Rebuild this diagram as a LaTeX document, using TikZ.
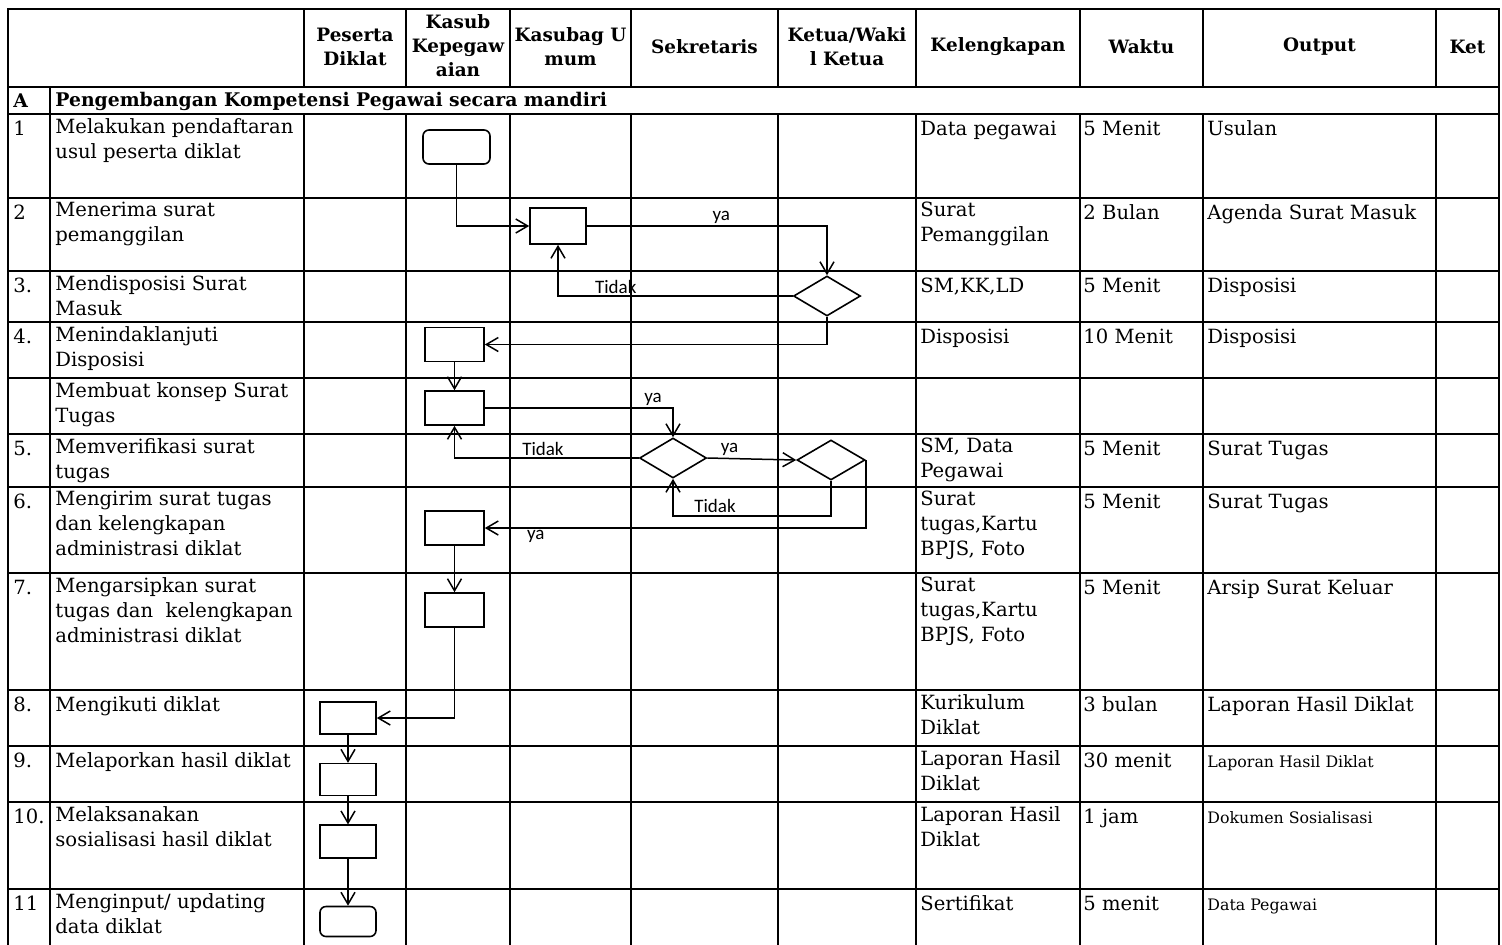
\documentclass[tikz,border=0pt]{standalone}
\usepackage{fontspec}
\setmainfont{DejaVu Serif}
\newfontfamily\labelfont{Carlito}
\usepackage{tikz}
\usetikzlibrary{positioning,shapes.geometric,arrows.meta}
\newcommand{\outsmall}{\fontsize{7.9}{10}\selectfont}
\tikzset{
    grid-line/.style = {line width=1.4pt, line cap=rect},
    cell-text/.style = {anchor=north west, inner sep=0pt, align=left, font=\fontsize{9.8}{12.5}\selectfont, execute at begin node=\strut},
    head-text/.style = {inner sep=0pt, align=center, font=\fontsize{9.2}{12}\selectfont\bfseries},
    proc-box/.style = {draw, thick, rectangle, minimum width=29.5pt, minimum height=17pt, inner sep=0pt},
    term-box/.style = {proc-box, rounded corners=3pt},
    dec-box/.style = {draw, thick, diamond, minimum width=33.5pt, minimum height=20pt, inner sep=0pt},
    flow-line/.style = {line width=0.75pt, -{Straight Barb[length=6pt,width=7pt]}},
    flow-label/.style = {font=\labelfont\fontsize{9.5}{11}\selectfont, inner sep=1pt},
}

\begin{document}
\begin{tikzpicture}[x=0.5pt, y=-0.5pt]
\useasboundingbox (0,0) rectangle (1502,944);

% table grid
\foreach \y in {9,87,114,198,271,322,378,434,487,573,690,746,802,889}
    \draw[grid-line] (8,\y) -- (1499,\y);
\draw[grid-line] (8,9) -- (8,950);
\draw[grid-line] (1499,9) -- (1499,950);
\draw[grid-line] (50,87) -- (50,950);
\foreach \x in {304,406,510,631,778,916,1080,1203,1436} {
    \draw[grid-line] (\x,9) -- (\x,87);
    \draw[grid-line] (\x,114) -- (\x,950);
}

% header
\node[head-text] (h-peserta) at (355,47) {Peserta\\Diklat};
\node[head-text] (h-kepeg) at (458,46) {Kasub\\Kepegaw\\aian};
\node[head-text] (h-umum) at (570.5,47) {Kasubag U\\mum};
\node[head-text] (h-sekre) at (704.5,47) {Sekretaris};
\node[head-text] (h-ketua) at (847,47) {Ketua/Waki\\l Ketua};
\node[head-text] (h-kel) at (998,47) {Kelengkapan};
\node[head-text] (h-waktu) at (1141.5,47) {Waktu};
\node[head-text] (h-output) at (1319.5,47) {Output};
\node[head-text] (h-ket) at (1467.5,47) {Ket};
\node[head-text, anchor=west, font=\fontsize{9.4}{12}\selectfont\bfseries] (sec-no) at (13,101) {A};
\node[head-text, anchor=west, font=\fontsize{9.4}{12}\selectfont\bfseries] (sec-title) at (55,101) {Pengembangan Kompetensi Pegawai secara mandiri};

% rows
\foreach \y/\no/\task/\kel/\wkt/\out [count=\r] in {
    114/1/{Melakukan pendaftaran\\usul peserta diklat}/{Data pegawai}/{5 Menit}/{Usulan},
    198/2/{Menerima surat\\pemanggilan}/{Surat\\Pemanggilan}/{2 Bulan}/{Agenda Surat Masuk},
    271/3./{Mendisposisi Surat\\Masuk}/{SM,KK,LD}/{5 Menit}/{Disposisi},
    322/4./{Menindaklanjuti\\Disposisi}/{Disposisi}/{10 Menit}/{Disposisi},
    378/{}/{Membuat konsep Surat\\Tugas}/{}/{}/{},
    434/5./{Memverifikasi surat\\tugas}/{SM, Data\\Pegawai}/{5 Menit}/{Surat Tugas},
    487/6./{Mengirim surat tugas\\dan kelengkapan\\administrasi diklat}/{Surat\\tugas,Kartu\\BPJS, Foto}/{5 Menit}/{Surat Tugas},
    573/7./{Mengarsipkan surat\\tugas dan\ \ kelengkapan\\administrasi diklat}/{Surat\\tugas,Kartu\\BPJS, Foto}/{5 Menit}/{Arsip Surat Keluar},
    690/8./{Mengikuti diklat}/{Kurikulum\\Diklat}/{3 bulan}/{Laporan Hasil Diklat},
    746/9./{Melaporkan hasil diklat}/{Laporan Hasil\\Diklat}/{30 menit}/{\outsmall Laporan Hasil Diklat},
    802/10./{Melaksanakan\\sosialisasi hasil diklat}/{Laporan Hasil\\Diklat}/{1 jam}/{\outsmall Dokumen Sosialisasi},
    889/11/{Menginput/ updating\\data diklat}/{Sertifikat}/{5 menit}/{\outsmall Data Pegawai}%
} {
    \node[cell-text] (no-\r) at (13,\y+4) {\no};
    \node[cell-text] (task-\r) at (55,\y+4) {\task};
    \node[cell-text] (kel-\r) at (920,\y+4) {\kel};
    \node[cell-text] (wkt-\r) at (1083,\y+4) {\wkt};
    \node[cell-text] (out-\r) at (1207,\y+4) {\out};
}

% flow shapes
\node[term-box, minimum width=33.5pt] (daftar) at (456.5,147) {};
\node[proc-box, minimum width=28pt, minimum height=18pt] (terima) at (558,226) {};
\node[dec-box] (cek-dispo) at (827,296) {};
\node[proc-box] (tindak) at (454.5,344.5) {};
\node[proc-box] (konsep) at (454.5,408) {};
\node[dec-box] (cek-sekre) at (673,458) {};
\node[dec-box, minimum width=34pt] (cek-ketua) at (831,460) {};
\node[proc-box] (kirim) at (454.5,528) {};
\node[proc-box] (arsip) at (454.5,610) {};
\node[proc-box, minimum width=28pt, minimum height=16pt] (ikut) at (348,718) {};
\node[proc-box, minimum width=28pt, minimum height=16pt, below=14pt of ikut] (lapor) {};
\node[proc-box, minimum width=28pt, minimum height=16.5pt, below=14pt of lapor] (sosial) {};
\node[term-box, minimum width=28pt, minimum height=15pt] (input) at (348,921.5) {};

% connectors
\draw[flow-line] (daftar.south) |- (terima.west);
\draw[flow-line] (terima.east) -| node[flow-label, pos=0.28, above] {ya} (cek-dispo.north);
\draw[flow-line] (cek-dispo.west) -| node[flow-label, pos=0.377, above] {Tidak} (terima.south);
\draw[flow-line] (cek-dispo.south) |- (tindak.east);
\draw[flow-line] (tindak) -- (konsep);
\draw[flow-line] (konsep.east) -| node[flow-label, pos=0.447, above] {ya} (cek-sekre.north);
\draw[flow-line] (cek-sekre.west) -| node[flow-label, pos=0.26, above] {Tidak} (konsep.south);
\draw[flow-line] (cek-sekre.east) -- node[flow-label, pos=0.25, above] {ya} (cek-ketua.west);
\draw[flow-line] (cek-ketua.south) -- ++(0,35) -| node[flow-label, pos=0.367, above] {Tidak} (cek-sekre.south);
\draw[flow-line] (cek-ketua.east) |- node[flow-label, pos=0.933, below] {ya} (kirim.east);
\draw[flow-line] (kirim) -- (arsip);
\draw[flow-line] (arsip.south) |- (ikut.east);
\draw[flow-line] (ikut) -- (lapor);
\draw[flow-line] (lapor) -- (sosial);
\draw[flow-line] (sosial) -- (input);
\end{tikzpicture}
\end{document}
